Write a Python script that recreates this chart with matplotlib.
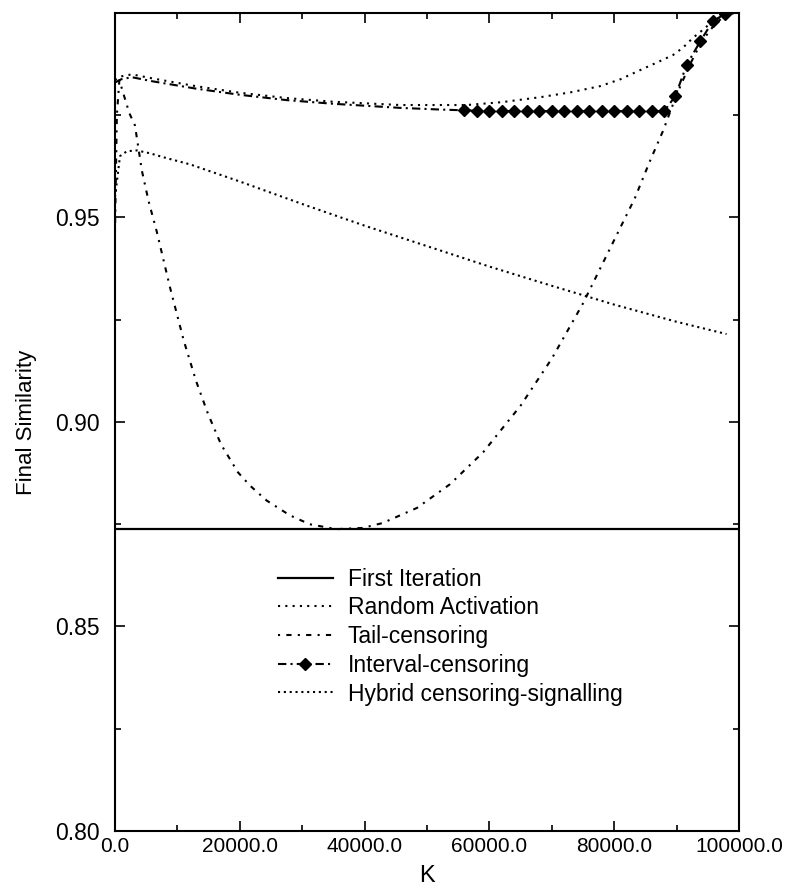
import matplotlib
matplotlib.use('Agg')
import matplotlib.pyplot as plt
from matplotlib.ticker import MultipleLocator, FixedLocator, FuncFormatter

plt.rcParams['font.family'] = ['Liberation Sans', 'DejaVu Sans']

# values
first_k = [0, 100000]
first_v = [0.8738, 0.8738]

random_k = [0, 1000, 2700, 6000, 13000, 20000, 27500, 35000, 45700, 56400, 62000,
            68100, 73000, 77700, 81000, 84100, 87000, 89400, 91000, 92600, 94300,
            95800, 97300, 98600, 100000]
random_v = [0.9836, 0.9845, 0.9850, 0.9840, 0.9821, 0.9805, 0.9792, 0.9783, 0.9775,
            0.9775, 0.9782, 0.9794, 0.9806, 0.9821, 0.9838, 0.9860, 0.9880, 0.9897,
            0.9915, 0.9939, 0.9960, 0.9980, 0.9992, 0.9998, 0.9999]

tail_k = [0, 300, 700, 1200, 2300, 3200, 4300, 5400, 6700, 8800, 11000, 13000, 14900,
          17000, 19700, 21600, 24300, 28000, 31200, 35500, 39700, 42900, 48400, 53700,
          59000, 65000, 70000, 75000, 80000, 83300, 85700, 87800, 90000, 92000, 94000,
          96000, 98000]
tail_v = [0.9466, 0.9750, 0.9836, 0.9810, 0.9755, 0.9725, 0.9615, 0.9539, 0.9465,
          0.9330, 0.9200, 0.9100, 0.9020, 0.8945, 0.8877, 0.8845, 0.8808, 0.8772,
          0.8750, 0.8738, 0.8741, 0.8753, 0.8790, 0.8848, 0.8926, 0.9040, 0.9155,
          0.9290, 0.9445, 0.9547, 0.9637, 0.9711, 0.9800, 0.9870, 0.9930, 0.9970,
          0.9998]

interval_k = [0, 1000, 2700, 6000, 13000, 20000, 27500, 35000, 45700, 52000, 56000,
              58000, 60000, 62000, 64000, 66000, 68000, 70000, 72000, 74000, 76000,
              78000, 80000, 82000, 84000, 86000, 88000, 89800, 91600, 93800, 95800,
              97800]
interval_v = [0.9830, 0.9838, 0.9843, 0.9833, 0.9815, 0.9800, 0.9787, 0.9778, 0.9768,
              0.9764, 0.9762, 0.9761, 0.9760, 0.9760, 0.9760, 0.9760, 0.9760, 0.9760,
              0.9760, 0.9760, 0.9760, 0.9760, 0.9760, 0.9760, 0.9760, 0.9760, 0.9760,
              0.9797, 0.9873, 0.9931, 0.9980, 0.9998]

hybrid_k = [0, 800, 1900, 3500, 5600, 8300, 12000, 20000, 30000, 40000, 50000, 60000,
            70000, 80000, 90000, 98000]
hybrid_v = [0.9550, 0.9650, 0.9662, 0.9664, 0.9657, 0.9645, 0.9630, 0.9588, 0.9533,
            0.9480, 0.9430, 0.9380, 0.9333, 0.9287, 0.9245, 0.9215]

labels = ['First Iteration', 'Random Activation', 'Tail-censoring',
          'Interval-censoring', 'Hybrid censoring-signalling']

fig = plt.figure(figsize=(7.92, 8.90), dpi=100)
ax = fig.add_axes([0.1452, 0.0663, 0.7879, 0.9191])

ax.plot(first_k, first_v, color='black', lw=1.6, label=labels[0])
ax.plot(random_k, random_v, color='black', lw=1.5, linestyle=(0, (1, 2.5)),
        label=labels[1])
ax.plot(tail_k, tail_v, color='black', lw=1.5, linestyle=(0, (1, 3, 2.5, 3)),
        label=labels[2])
marks = [k >= 56000 for k in interval_k]
ax.plot(interval_k, interval_v, color='black', lw=1.5, linestyle=(0, (4, 2, 1, 2)),
        marker='D', markersize=6, markevery=marks, label=labels[3])
ax.plot(hybrid_k, hybrid_v, color='black', lw=1.5, linestyle=(0, (1, 1.8)),
        label=labels[4])

ax.set_xlim(0, 100000)
ax.set_ylim(0.80, 1.0)

ax.xaxis.set_major_locator(MultipleLocator(20000))
ax.xaxis.set_minor_locator(MultipleLocator(10000))
ax.xaxis.set_major_formatter(FuncFormatter(lambda v, p: '%.1f' % v))
ax.yaxis.set_major_locator(FixedLocator([0.80, 0.85, 0.90, 0.95, 1.00]))
ax.yaxis.set_minor_locator(MultipleLocator(0.025))
ax.yaxis.set_major_formatter(FuncFormatter(lambda v, p: '' if v > 0.99 else '%.2f' % v))

ax.tick_params(which='both', direction='in', top=True, right=True, width=1.2)
ax.tick_params(which='major', length=7)
ax.tick_params(which='minor', length=4)
ax.tick_params(axis='x', labelsize=15, pad=4)
ax.tick_params(axis='y', labelsize=16.5, pad=11)
for s in ax.spines.values():
    s.set_linewidth(1.5)

ax.set_xlabel('K', fontsize=17, labelpad=7)
ax.set_ylabel('Final Similarity', fontsize=16)
ax.yaxis.set_label_coords(-0.125, 0.5)

ax.legend(loc='upper left', bbox_to_anchor=(0.261, 0.322), frameon=False,
          fontsize=16.5, handlelength=2.4, handletextpad=0.65, labelspacing=0.25,
          borderpad=0, borderaxespad=0)

fig.savefig('out.png', dpi=100)
